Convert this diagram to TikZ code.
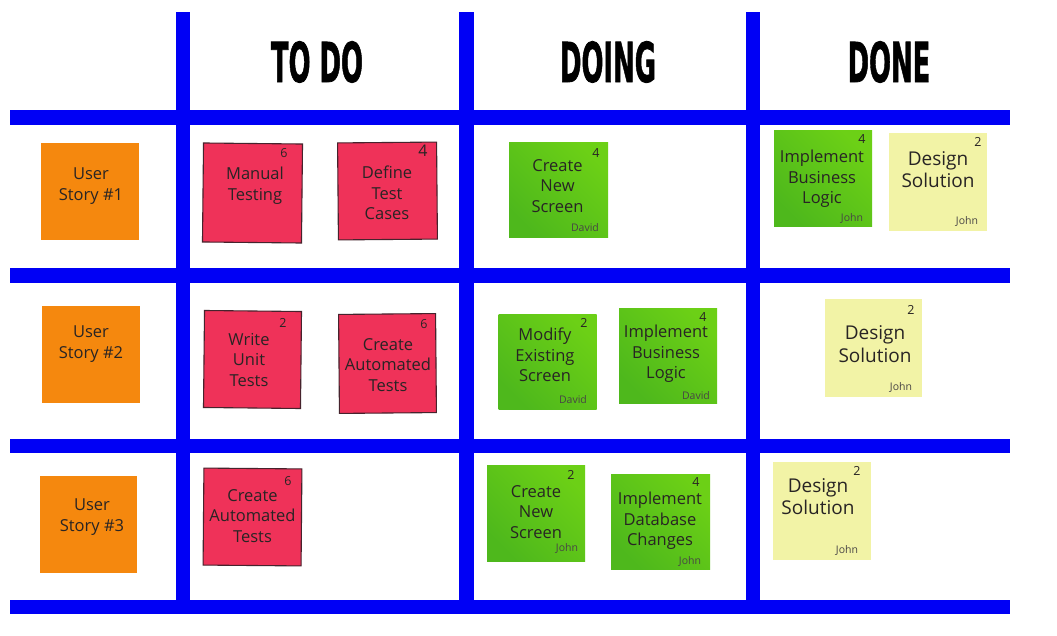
\documentclass[tikz,border=0pt]{standalone}
\usepackage{fontspec}
\setmainfont{Open Sans}
\newfontfamily\hdrfont{DejaVu Sans}[BoldFeatures={FakeBold=1.6}]
\definecolor{kblue}{RGB}{0,0,245}
\definecolor{korange}{RGB}{245,136,14}
\definecolor{kred}{RGB}{239,50,89}
\definecolor{kredline}{RGB}{70,35,45}
\definecolor{kgreenA}{RGB}{78,184,28}
\definecolor{kgreenB}{RGB}{108,208,22}
\definecolor{kyellow}{RGB}{242,243,166}
\definecolor{ktext}{RGB}{40,36,36}
\tikzset{
  board/.style={fill=kblue},
  card/.style={rectangle, inner sep=0pt, minimum width=98pt, minimum height=97pt},
  storycard/.style={card, fill=korange},
  todocard/.style={card, fill=kred, draw=kredline, line width=1.1pt},
  doingcard/.style={card, bottom color=kgreenA, top color=kgreenB, shading angle=-45},
  yellowcard/.style={card, fill=kyellow},
  cardtext/.style={align=center, text=ktext, font=\fontsize{16.5}{20.5}\selectfont, inner sep=0pt},
  bigtext/.style={align=center, text=ktext, font=\fontsize{19}{22.5}\selectfont, inner sep=0pt},
  est/.style={text=ktext, font=\fontsize{12.5}{13}\selectfont, inner sep=0pt},
  owner/.style={text=ktext!85, font=\fontsize{10.5}{11}\selectfont, inner sep=0pt},
  header/.style={inner sep=0pt, text=black}
}
\newcommand{\hdr}[1]{\scalebox{0.47}[1]{\hdrfont\bfseries\fontsize{55}{55}\selectfont #1}}
\begin{document}
\begin{tikzpicture}[x=1pt,y=-1pt]
\useasboundingbox (0,0) rectangle (1057,636);
\fill[white] (0,0) rectangle (1057,636);

% board grid
\fill[board] (9.5,110) rectangle (1010,125);
\fill[board] (9.5,268) rectangle (1010,283);
\fill[board] (9.5,439) rectangle (1010,453);
\fill[board] (9.5,600) rectangle (1010,614);
\fill[board] (175.5,12) rectangle (190,614);
\fill[board] (459,12) rectangle (473.5,614);
\fill[board] (745.5,12) rectangle (760,614);

% headers
\node[header] (htodo) at (317,62) {\hdr{TO DO}};
\node[header] (hdoing) at (608,62) {\hdr{DOING}};
\node[header] (hdone) at (889,62) {\hdr{DONE}};

% ---------- row 1 ----------
\node[storycard] (us1) at (90,192) {};
\node[cardtext] (us1t) at (91,186) {User\\Story \#1};

\node[todocard, minimum width=99pt, minimum height=99pt, rotate=-0.6] (mt) at (252.5,193) {};
\node[cardtext] (mtt) at (255,185.5) {Manual\\Testing};
\node[est] (mtn) at (284,153) {6};

\node[todocard, minimum width=99pt, rotate=0.5] (dtc) at (387.5,191) {};
\node[cardtext] (dtct) at (387,193) {Define\\Test\\Cases};
\node[est, font=\fontsize{16}{16}\selectfont] (dtcn) at (423,151) {4};

\node[doingcard, minimum width=99pt, minimum height=95pt] (cns1) at (558.5,190.5) {};
\node[cardtext] (cns1t) at (557.5,186) {Create\\New\\Screen};
\node[est] (cns1n) at (596,153) {4};
\node[owner] (cns1o) at (585,228) {David};

\node[doingcard, minimum height=96pt] (ibl1) at (823,179) {};
\node[cardtext] (ibl1t) at (822,179) {Implement\\Business\\Logic};
\node[est] (ibl1n) at (862,139) {4};
\node[owner] (ibl1o) at (852,218) {John};

\node[yellowcard, minimum height=98pt] (ds1) at (938,182) {};
\node[bigtext] (ds1t) at (938,169.5) {Design\\Solution};
\node[est] (ds1n) at (978,142) {2};
\node[owner] (ds1o) at (967,221) {John};

% ---------- row 2 ----------
\node[storycard] (us2) at (91,354.5) {};
\node[cardtext] (us2t) at (91,344) {User\\Story \#2};

\node[todocard, minimum width=97pt, rotate=-0.6] (wut) at (252.5,359.5) {};
\node[cardtext] (wutt) at (249,360) {Write\\Unit\\Tests};
\node[est] (wutn) at (283,323) {2};

\node[todocard, minimum width=97pt, minimum height=99pt, rotate=0.5] (cat2) at (387.5,363.5) {};
\node[cardtext] (cat2t) at (388,365) {Create\\Automated\\Tests};
\node[est] (cat2n) at (424,324) {6};

\node[doingcard, minimum height=95pt] (mes) at (547.5,361.5) {};
\node[cardtext] (mest) at (545,355) {Modify\\Existing\\Screen};
\node[est] (mesn) at (584,323) {2};
\node[owner] (meso) at (573,400) {David};

\node[doingcard, minimum height=95pt] (ibl2) at (668,355.5) {};
\node[cardtext] (ibl2t) at (666,354) {Implement\\Business\\Logic};
\node[est] (ibl2n) at (703,317) {4};
\node[owner] (ibl2o) at (696,396) {David};

\node[yellowcard, minimum width=97pt, minimum height=98pt] (ds2) at (873.5,348) {};
\node[bigtext] (ds2t) at (875,344) {Design\\Solution};
\node[est] (ds2n) at (911,310) {2};
\node[owner] (ds2o) at (901,387) {John};

% ---------- row 3 ----------
\node[storycard, minimum width=97pt] (us3) at (88.5,524.5) {};
\node[cardtext] (us3t) at (92,517) {User\\Story \#3};

\node[todocard, minimum width=98pt, rotate=-0.5] (cat3) at (252.5,517) {};
\node[cardtext] (cat3t) at (252.5,516) {Create\\Automated\\Tests};
\node[est] (cat3n) at (288,481) {6};

\node[doingcard, minimum height=96pt] (cns3) at (536,513) {};
\node[cardtext] (cns3t) at (536,512) {Create\\New\\Screen};
\node[est] (cns3n) at (571,475) {2};
\node[owner] (cns3o) at (567,548) {John};

\node[doingcard, minimum width=99pt, minimum height=95pt] (idc) at (660.5,521.5) {};
\node[cardtext] (idct) at (660,521) {Implement\\Database\\Changes};
\node[est] (idcn) at (696,482) {4};
\node[owner] (idco) at (690,561) {John};

\node[yellowcard, minimum height=98pt] (ds3) at (822,511) {};
\node[bigtext] (ds3t) at (818,496.5) {Design\\Solution};
\node[est] (ds3n) at (857,471) {2};
\node[owner] (ds3o) at (847,550) {John};
\end{tikzpicture}
\end{document}
